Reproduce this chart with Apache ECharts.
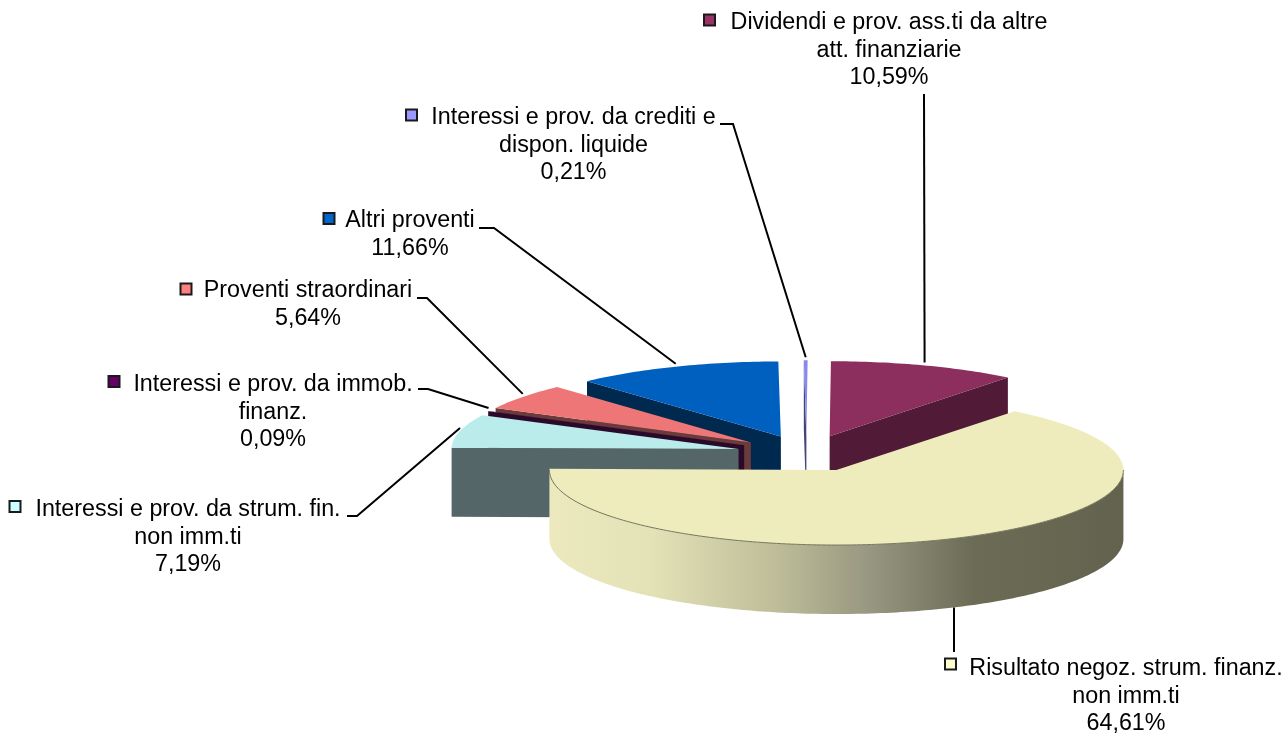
<!DOCTYPE html>
<html><head><meta charset="utf-8">
<style>html,body{margin:0;padding:0;background:#fff}#c{width:1288px;height:733px}</style>
<script src="https://cdn.jsdelivr.net/npm/echarts@6/dist/echarts.min.js"></script>
</head><body><div id="c"></div>
<script>
// Data, in pie order (clockwise)
const categories = ['strum','immob','straord','altri','crediti','dividendi','risultato'];
const values = [7.19, 0.09, 5.64, 11.66, 0.21, 10.59, 64.61];
const labelLines = [
  ['Interessi e prov. da strum. fin.', 'non imm.ti'],
  ['Interessi e prov. da immob.', 'finanz.'],
  ['Proventi straordinari'],
  ['Altri proventi'],
  ['Interessi e prov. da crediti e', 'dispon. liquide'],
  ['Dividendi e prov. ass.ti da altre', 'att. finanziarie'],
  ['Risultato negoz. strum. finanz.', 'non imm.ti']
];
// Styles
const topColors  = ['#bbecec','#4a0f4a','#ee7676','#0060c0','#8888ee','#8c2e5e','#eeecbc'];
const wallColors = ['#556668','#2a0a2a','#6b3a3a','#00294f','#444477','#511a37','#6a6a54'];
const keyColors  = ['#ccffff','#660066','#ff8080','#0066cc','#9999ff','#993366','#ffffcc'];
const drawOrder  = [3,5,4,2,1,0,6];
// Layout
const P = {cx:806.5, cy:453.5, rx:287, ry:75, depth:69, explode:70, start:179};
const FONT = '23.3px "Liberation Sans", Arial, sans-serif';
const LINE_H = 27.5;
const labelLayout = [
  {cx:188, y:510, key:[9.5,501],   elbow:[[347,516],[357,516]]},
  {cx:273, y:385, key:[108.5,376], elbow:[[418,389],[428,389]]},
  {cx:308, y:291, key:[180.5,283.5], elbow:[[417,298],[427,298]]},
  {cx:410, y:221, key:[323.5,213], elbow:[[479,228],[494,228]]},
  {cx:573.5, y:118, key:[406,109.5], elbow:[[720,124],[733,124]]},
  {cx:889, y:23,  key:[704,14.5],  elbow:[[924,94]]},
  {cx:1126,y:669, key:[945,658.5], elbow:[[954,652]]}
];
const RAD = Math.PI/180;
const total = values.reduce((a,b)=>a+b,0);
// angular extents, from data
const slices = []; let acc = P.start;
values.forEach(v=>{const sweep=v/total*360; slices.push({t0:acc,t1:acc-sweep,mid:acc-sweep/2}); acc-=sweep;});
slices.forEach(s=>{
  s.ax = P.cx + P.explode*Math.cos(s.mid*RAD);
  s.ay = P.cy - P.explode*(P.ry/P.rx)*Math.sin(s.mid*RAD);
});
const rim=(s,t,dz=0)=>[s.ax+P.rx*Math.cos(t*RAD), s.ay-P.ry*Math.sin(t*RAD)+dz];
function arc(s,a,b,dz){const n=Math.max(2,Math.ceil(Math.abs(a-b)));const o=[];for(let i=0;i<=n;i++)o.push(rim(s,a+(b-a)*i/n,dz));return o;}
const yellowGrad = new echarts.graphic.LinearGradient(0,0,1,0,[
  {offset:0,color:'#ebe9bd'},{offset:.18,color:'#e3e1b6'},{offset:.4,color:'#bdbc98'},
  {offset:.56,color:'#979680'},{offset:.74,color:'#6c6c56'},{offset:1,color:'#62624e'}]);

function renderSlice(params, api){
  const i = api.value(0), s = slices[i], ch = [];
  const poly=(pts,fill)=>ch.push({type:'polygon',shape:{points:pts},style:{fill:fill},silent:true});
  if(i===6){
    const top=arc(s,-180,0,0), bot=arc(s,0,-180,P.depth);
    poly(top.concat(bot), yellowGrad);
  }else{
    // wall under the cut edge that faces the viewer
    const r=rim(s,i===5?s.t1:s.t0);
    poly([r,[s.ax,s.ay],[s.ax,s.ay+P.depth],[r[0],r[1]+P.depth]], wallColors[i]);
  }
  poly([[s.ax,s.ay]].concat(arc(s,s.t0,s.t1,0)), topColors[i]);
  if(i===6){
    ch.push({type:'polyline',shape:{points:arc(s,-180,0,0)},style:{stroke:'#77775f',lineWidth:1,fill:null},silent:true});
  }
  return {type:'group',children:ch};
}
function leaderEnd(i){
  const s=slices[i];
  if(i===6){
    const x=labelLayout[i].elbow[0][0], k=(x-s.ax)/P.rx;
    return [x, s.ay+P.ry*Math.sqrt(1-k*k)+P.depth];
  }
  const e=rim(s,s.mid); return [e[0],e[1]-3];
}
function renderLabel(params, api){
  const i=api.value(0), L=labelLayout[i], ch=[];
  ch.push({type:'polyline',shape:{points:L.elbow.concat([leaderEnd(i)])},style:{stroke:'#000',lineWidth:2,fill:null},silent:true});
  ch.push({type:'rect',shape:{x:L.key[0],y:L.key[1],width:11,height:11},style:{fill:keyColors[i],stroke:'#1a1a1a',lineWidth:2},silent:true});
  const pct=values[i].toFixed(2).replace('.',',')+'%';
  labelLines[i].concat([pct]).forEach((t,k)=>{
    ch.push({type:'text',style:{text:t,x:L.cx,y:L.y+k*LINE_H,align:'center',verticalAlign:'middle',font:FONT,fill:'#000'},silent:true});
  });
  return {type:'group',children:ch};
}
const chart=echarts.init(document.getElementById('c'),null,{renderer:'canvas'});
chart.setOption({
  backgroundColor:'#fff',animation:false,
  xAxis:{show:false},yAxis:{show:false},
  series:[
    {type:'custom',coordinateSystem:'none',renderItem:renderSlice,silent:true,z:2,
     data:drawOrder.map(i=>[i,values[i],categories[i]])},
    {type:'custom',coordinateSystem:'none',renderItem:renderLabel,silent:true,z:3,
     data:values.map((v,i)=>[i,v,categories[i]])}
  ]
});
</script></body></html>
